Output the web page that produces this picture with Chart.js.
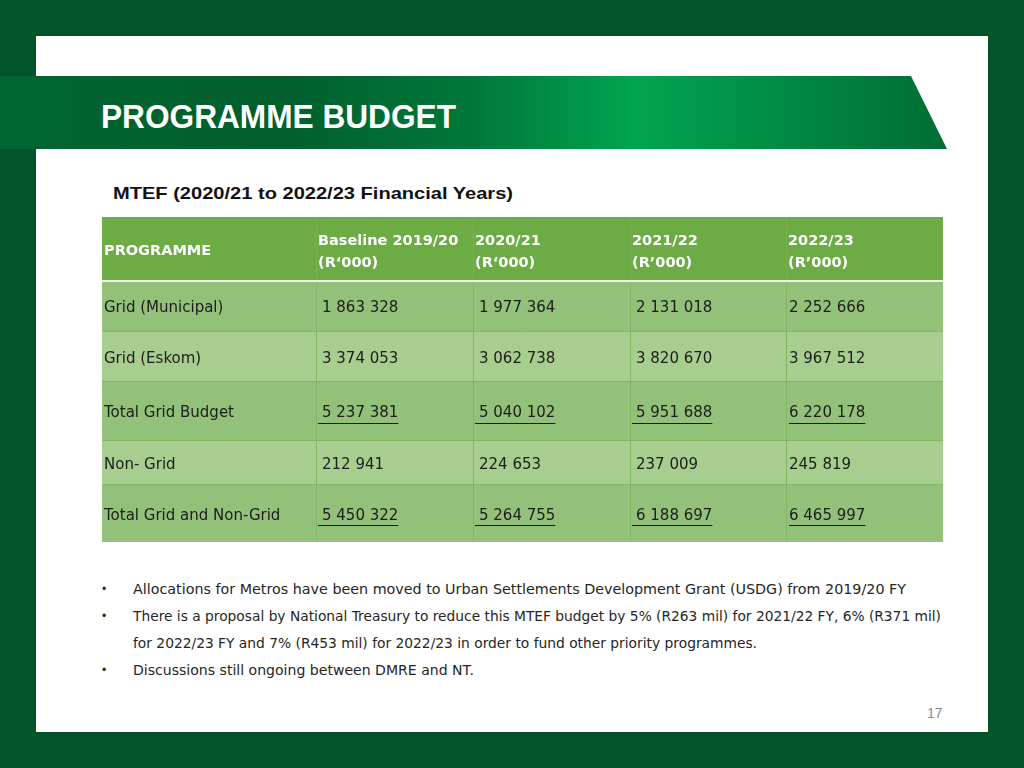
<!DOCTYPE html>
<html>
<head>
<meta charset="utf-8">
<script src="https://cdn.jsdelivr.net/npm/chart.js@4.4.1/dist/chart.umd.min.js"></script>
<style>
  html, body { margin: 0; padding: 0; }
  body { width: 1024px; height: 768px; background: #02552a; position: relative; overflow: hidden; font-family: "DejaVu Sans", sans-serif; }
  .slide { position: absolute; left: 36px; top: 36px; width: 952px; height: 696px; background: #fff; }
  .banner { position: absolute; left: 0; top: 76px; width: 948px; height: 73px;
    clip-path: polygon(0 0, 911px 0, 947px 100%, 0 100%);
    background: linear-gradient(90deg, #006631 0%, #005f2d 30%, #00783a 50%, #00a44f 67%, #009247 78%, #006d34 100%); }
  .fit { position: absolute; white-space: nowrap; transform-origin: 0 0; line-height: 1; }
  .title { left: 101px; top: 97px; font: bold 34px "Liberation Sans Narrow", "Liberation Sans", sans-serif; color: #fff; }
  .sub { left: 113px; top: 184px; font: bold 17px "Liberation Sans", sans-serif; color: #111; }
  .bul { font: 14px "DejaVu Sans", sans-serif; color: #262626; }
  .dot { position: absolute; left: 102px; font: 12px "Liberation Sans", sans-serif; color: #262626; line-height: 1; }
  .pg { left: 927px; top: 705px; font: 14px "Liberation Sans", sans-serif; color: #8a8a8a; }
  #tbl { position: absolute; left: 102px; top: 217px; }
</style>
</head>
<body>
<div class="slide"></div>
<div class="banner"></div>
<div class="fit title" data-w="355">PROGRAMME BUDGET</div>
<div class="fit sub" data-w="400">MTEF (2020/21 to 2022/23 Financial Years)</div>

<canvas id="tbl" width="841" height="325"></canvas>

<div class="dot" style="top:583px">•</div>
<div class="fit bul" style="left:133px;top:581px" data-w="773">Allocations for Metros have been moved to Urban Settlements Development Grant (USDG) from 2019/20 FY</div>
<div class="dot" style="top:610px">•</div>
<div class="fit bul" style="left:133px;top:608px" data-w="808">There is a proposal by National Treasury to reduce this MTEF budget by 5% (R263 mil) for 2021/22 FY, 6% (R371 mil)</div>
<div class="fit bul" style="left:133px;top:635px" data-w="624">for 2022/23 FY and 7% (R453 mil) for 2022/23 in order to fund other priority programmes.</div>
<div class="dot" style="top:664px">•</div>
<div class="fit bul" style="left:133px;top:662px" data-w="341">Discussions still ongoing between DMRE and NT.</div>
<div class="fit pg">17</div>

<script>
// table data
const headers = [['PROGRAMME'], ['Baseline 2019/20', '(R‘000)'], ['2020/21', '(R‘000)'], ['2021/22', '(R’000)'], ['2022/23', '(R’000)']];
const programmes = ['Grid (Municipal)', 'Grid (Eskom)', 'Total Grid Budget', 'Non- Grid', 'Total Grid and Non-Grid'];
const baseline1920 = [1863328, 3374053, 5237381, 212941, 5450322];
const fy2021 = [1977364, 3062738, 5040102, 224653, 5264755];
const fy2122 = [2131018, 3820670, 5951688, 237009, 6188697];
const fy2223 = [2252666, 3967512, 6220178, 245819, 6465997];
const totalRows = [false, false, true, false, true];

// layout (table units = px inside the canvas)
const colEdges = [0, 214, 371, 528, 684, 841];
const rowEdges = [0, 63, 114, 164, 223, 267, 325];
const valueIndent = [2, 6, 6, 6, 3];
const underlineIndent = [2, 2, 2, 2, 3];

const HEAD_BG = '#6dac45';
const BAND_DARK = '#93c179';
const BAND_LIGHT = '#a7ce8f';
const LINE = '#82b864';

function fmt(n) {
  return String(n).replace(/\B(?=(\d{3})+(?!\d))/g, ' ');
}

const tablePlugin = {
  id: 'tablePlugin',
  afterDraw(chart) {
    const ctx = chart.ctx;
    const xs = chart.scales.x, ys = chart.scales.y;
    const px = v => xs.getPixelForValue(v);
    const py = v => ys.getPixelForValue(v);
    const cols = [null, baseline1920, fy2021, fy2122, fy2223];
    const left = px(colEdges[0]), right = px(colEdges[colEdges.length - 1]);
    ctx.save();

    // cell backgrounds
    for (let r = 0; r < rowEdges.length - 1; r++) {
      const top = py(rowEdges[r]), bot = py(rowEdges[r + 1]);
      ctx.fillStyle = r === 0 ? HEAD_BG : (r % 2 === 1 ? BAND_DARK : BAND_LIGHT);
      ctx.fillRect(left, top, right - left, bot - top);
    }
    // grid lines
    ctx.lineWidth = 1;
    for (let c = 1; c < colEdges.length - 1; c++) {
      const x = Math.round(px(colEdges[c])) + 0.5;
      ctx.strokeStyle = LINE;
      ctx.beginPath(); ctx.moveTo(x, py(rowEdges[1])); ctx.lineTo(x, py(rowEdges[rowEdges.length - 1])); ctx.stroke();
      ctx.strokeStyle = '#79b252';
      ctx.beginPath(); ctx.moveTo(x, py(rowEdges[0])); ctx.lineTo(x, py(rowEdges[1])); ctx.stroke();
    }
    ctx.strokeStyle = LINE;
    for (let r = 2; r < rowEdges.length - 1; r++) {
      const y = Math.round(py(rowEdges[r])) + 0.5;
      ctx.beginPath(); ctx.moveTo(left, y); ctx.lineTo(right, y); ctx.stroke();
    }
    ctx.fillStyle = '#eef6e8';
    ctx.fillRect(left, py(rowEdges[1]), right - left, 2);

    // header text
    ctx.fillStyle = '#ffffff';
    ctx.font = 'bold 14.5px "DejaVu Sans", sans-serif';
    ctx.textBaseline = 'middle';
    headers.forEach((lines, c) => {
      const x = px(colEdges[c]) + 2;
      const mid = (py(rowEdges[0]) + py(rowEdges[1])) / 2;
      if (lines.length === 1) {
        ctx.fillText(lines[0], x, mid + 3);
      } else {
        ctx.fillText(lines[0], x, mid - 7);
        ctx.fillText(lines[1], x, mid + 15);
      }
    });

    // body text
    ctx.fillStyle = '#1c1c1c';
    ctx.strokeStyle = '#1c1c1c';
    ctx.font = '15px "DejaVu Sans", sans-serif';
    programmes.forEach((name, r) => {
      const mid = (py(rowEdges[r + 1]) + py(rowEdges[r + 2])) / 2 + 3;
      ctx.fillText(name, left + 2, mid);
      for (let c = 1; c < cols.length; c++) {
        const s = fmt(cols[c][r]);
        const x = px(colEdges[c]) + valueIndent[c];
        ctx.fillText(s, x, mid);
        if (totalRows[r]) {
          const x0 = px(colEdges[c]) + underlineIndent[c];
          const x1 = x + ctx.measureText(s).width;
          const uy = Math.round(mid + 9) + 0.5;
          ctx.beginPath(); ctx.moveTo(x0, uy); ctx.lineTo(x1, uy); ctx.stroke();
        }
      }
    });
    ctx.restore();
  }
};

new Chart(document.getElementById('tbl'), {
  type: 'scatter',
  data: { datasets: [] },
  options: {
    responsive: false,
    animation: false,
    layout: { padding: 0 },
    plugins: { legend: { display: false }, tooltip: { enabled: false } },
    scales: {
      x: { type: 'linear', min: colEdges[0], max: colEdges[colEdges.length - 1], display: false },
      y: { type: 'linear', min: rowEdges[0], max: rowEdges[rowEdges.length - 1], reverse: true, display: false }
    }
  },
  plugins: [tablePlugin]
});

// squeeze decorative text to the reference widths
document.querySelectorAll('[data-w]').forEach(el => {
  const w = el.getBoundingClientRect().width;
  if (w > 0) el.style.transform = 'scaleX(' + (el.dataset.w / w) + ')';
});
</script>
</body>
</html>
